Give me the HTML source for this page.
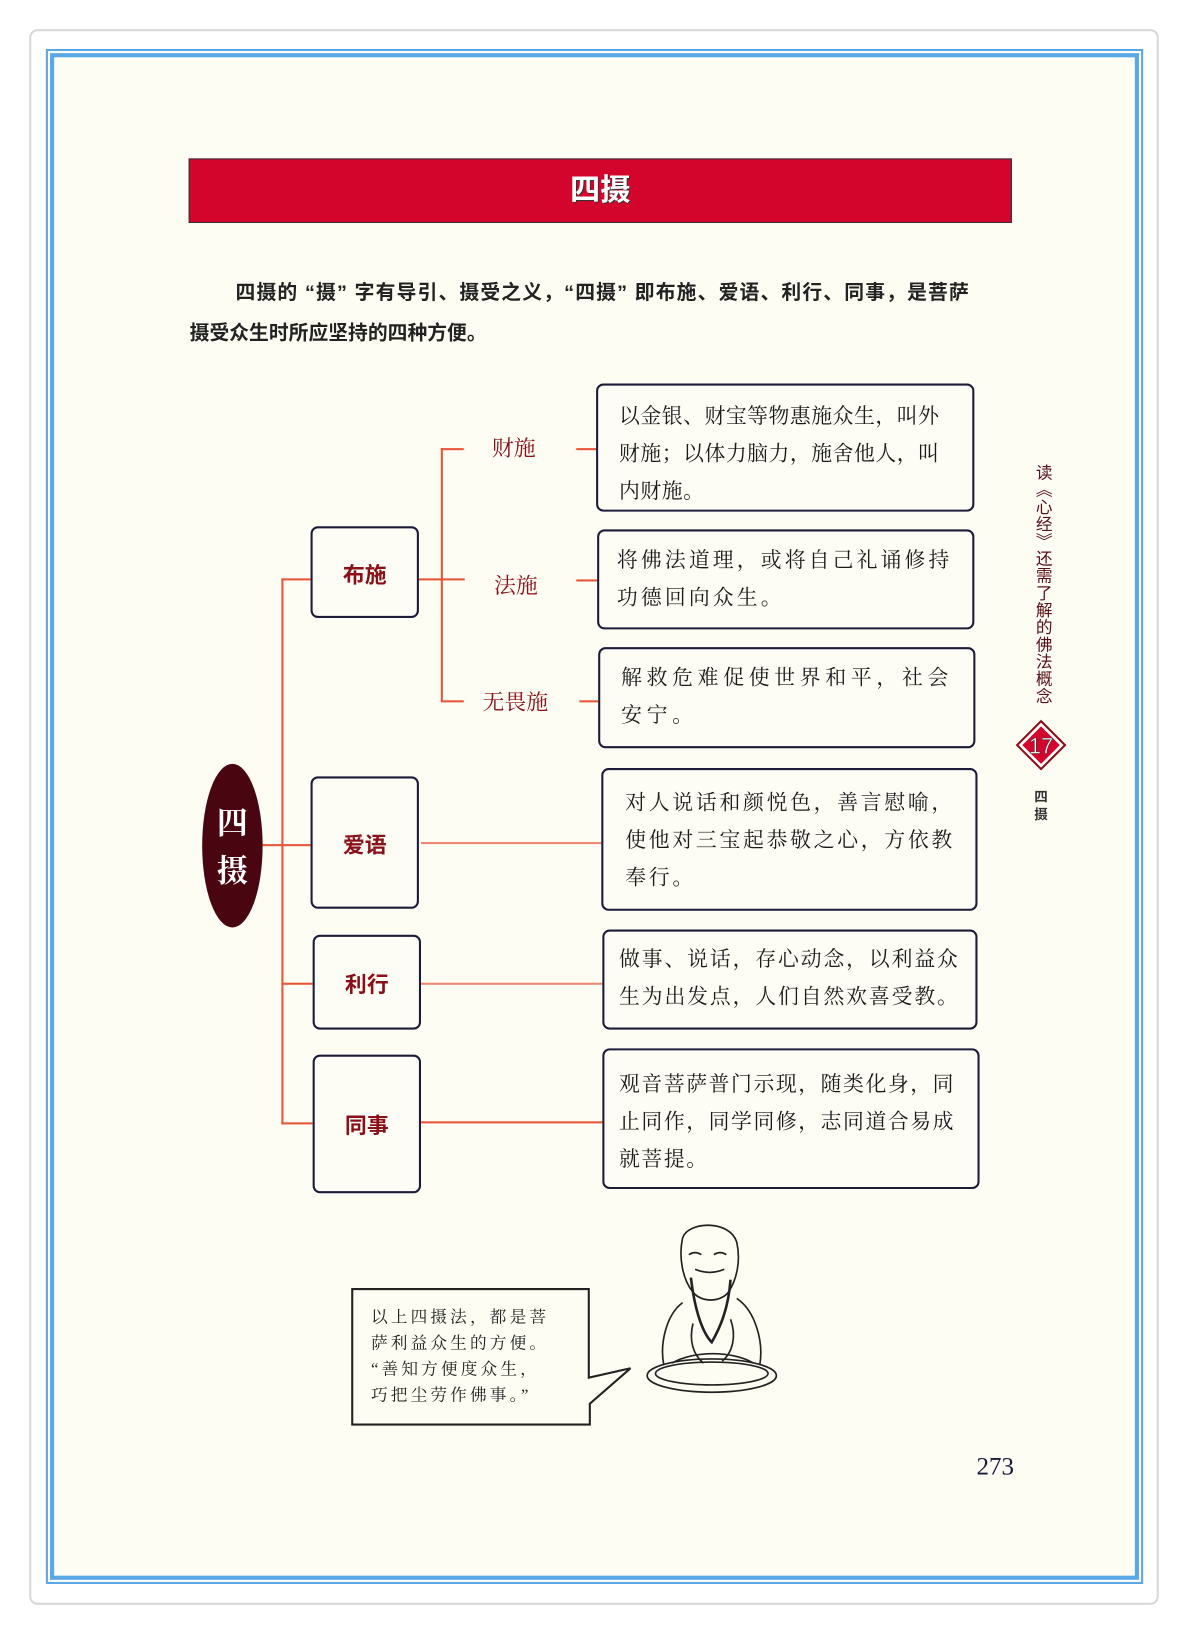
<!DOCTYPE html>
<html><head><meta charset="utf-8"><style>
html,body{margin:0;padding:0;background:#fff;width:1188px;height:1631px;overflow:hidden}
#w{position:absolute;left:0;top:0;width:1140px;height:1565px;transform:scale(1.0421);transform-origin:0 0}
.a{position:absolute}
.sans{font-family:"Liberation Sans","Noto Sans CJK SC",sans-serif}
.serif{font-family:"Liberation Serif","Noto Serif CJK SC",serif}
.box{position:absolute;border:2px solid #1c1c3a;border-radius:7px;box-sizing:border-box;background:#fdfdf5}
.lab{position:absolute;font-family:"Liberation Sans","Noto Sans CJK SC",sans-serif;font-weight:bold;color:#8a0f18;font-size:21px}
.sub{position:absolute;font-family:"Liberation Serif","Noto Serif CJK SC",serif;color:#8a0f18;font-size:21px}
.txt{position:absolute;font-family:"Liberation Serif","Noto Serif CJK SC",serif;color:#1a1a1a;font-size:20px;letter-spacing:1.5px;line-height:36px;white-space:nowrap}
.ln{position:absolute;background:#e8563a}
</style></head><body><div id="w">
<div class="a" style="left:28px;top:28px;width:1084px;height:1512px;border:2px solid #d8d8d8;border-radius:8px;box-sizing:border-box;background:#fff"></div>
<div class="a" style="left:44px;top:47px;width:1053px;height:1473px;border:2px solid #5aa8e6;box-sizing:border-box"></div>
<div class="a" style="left:48px;top:51px;width:1045px;height:1465px;border:4px solid #5aa8e6;box-sizing:border-box;background:#fdfdf3"></div>

<div class="a" style="left:181px;top:152px;width:790px;height:62px;background:#d4052c;border:1.5px solid #333;box-sizing:border-box"></div>
<div class="a sans" style="left:181px;top:152px;width:790px;height:62px;line-height:62px;text-align:center;color:#fff;font-weight:bold;font-size:29px;text-shadow:1px 1px 0 #333">四摄</div>

<div class="a sans" style="left:226px;top:266px;font-size:19px;font-weight:bold;color:#222;white-space:nowrap;letter-spacing:1.1px">四摄的 “摄” 字有导引、摄受之义，“四摄” 即布施、爱语、利行、同事，是菩萨</div>
<div class="a sans" style="left:182px;top:305px;font-size:19px;font-weight:bold;color:#222;white-space:nowrap">摄受众生时所应坚持的四种方便。</div>

<div class="ln" style="left:252px;top:810px;width:46px;height:2px"></div>
<div class="ln" style="left:270px;top:555px;width:2px;height:524px"></div>
<div class="ln" style="left:270px;top:555px;width:28px;height:2px"></div>
<div class="ln" style="left:270px;top:943px;width:30px;height:2px"></div>
<div class="ln" style="left:270px;top:1077px;width:30px;height:2px"></div>
<div class="ln" style="left:402px;top:555px;width:44px;height:2px"></div>
<div class="ln" style="left:423px;top:430px;width:2px;height:243px"></div>
<div class="ln" style="left:423px;top:430px;width:22px;height:2px"></div>
<div class="ln" style="left:423px;top:672px;width:22px;height:2px"></div>
<div class="ln" style="left:553px;top:430px;width:19px;height:2px"></div>
<div class="ln" style="left:553px;top:556px;width:20px;height:2px"></div>
<div class="ln" style="left:556px;top:672px;width:18px;height:2px"></div>
<div class="ln" style="left:404px;top:808px;width:173px;height:2px;opacity:.7"></div>
<div class="ln" style="left:404px;top:943px;width:174px;height:2px;opacity:.7"></div>
<div class="ln" style="left:404px;top:1076px;width:174px;height:2px"></div>

<div class="a" style="left:194px;top:733px;width:58px;height:157px;border-radius:50%;background:#4a0610"></div>
<div class="a serif" style="left:194px;top:768px;width:58px;text-align:center;color:#fff;font-weight:bold;font-size:30px;line-height:46px">四<br>摄</div>

<div class="box" style="left:298px;top:505px;width:104px;height:88px"></div><div class="lab" style="left:298px;top:536px;width:104px;text-align:center">布施</div>
<div class="box" style="left:298px;top:745px;width:104px;height:127px"></div><div class="lab" style="left:298px;top:795px;width:104px;text-align:center">爱语</div>
<div class="box" style="left:300px;top:897px;width:104px;height:91px"></div><div class="lab" style="left:300px;top:929px;width:104px;text-align:center">利行</div>
<div class="box" style="left:300px;top:1012px;width:104px;height:133px"></div><div class="lab" style="left:300px;top:1064px;width:104px;text-align:center">同事</div>

<div class="sub" style="left:472px;top:414px">财施</div>
<div class="sub" style="left:474px;top:546px">法施</div>
<div class="sub" style="left:463px;top:658px">无畏施</div>

<div class="box" style="left:572px;top:368px;width:363px;height:123px"></div>
<div class="txt" style="left:594px;top:382px;letter-spacing:0.5px">以金银、财宝等物惠施众生，叫外<br>财施；以体力脑力，施舍他人，叫<br>内财施。</div>
<div class="box" style="left:573px;top:508px;width:362px;height:96px"></div>
<div class="txt" style="left:592px;top:520px;letter-spacing:3px">将佛法道理，或将自己礼诵修持<br>功德回向众生。</div>
<div class="box" style="left:574px;top:621px;width:362px;height:97px"></div>
<div class="txt" style="left:596px;top:633px;letter-spacing:4.5px">解救危难促使世界和平，社会<br>安宁。</div>
<div class="box" style="left:577px;top:737px;width:361px;height:137px"></div>
<div class="txt" style="left:600px;top:753px;letter-spacing:2.6px">对人说话和颜悦色，善言慰喻，<br>使他对三宝起恭敬之心，方依教<br>奉行。</div>
<div class="box" style="left:578px;top:892px;width:360px;height:96px"></div>
<div class="txt" style="left:594px;top:903px;letter-spacing:1.8px">做事、说话，存心动念，以利益众<br>生为出发点，人们自然欢喜受教。</div>
<div class="box" style="left:578px;top:1006px;width:362px;height:135px"></div>
<div class="txt" style="left:594px;top:1023px;letter-spacing:1.5px">观音菩萨普门示现，随类化身，同<br>止同作，同学同修，志同道合易成<br>就菩提。</div>

<div class="a sans" style="left:987px;top:445px;writing-mode:vertical-rl;font-size:16px;letter-spacing:0.5px;color:#5a1018">读《心经》还需了解的佛法概念</div>
<svg class="a" style="left:974px;top:690px" width="50" height="50"><polygon points="25,2 48,25 25,48 2,25" fill="#fff" stroke="#8a0f18" stroke-width="2"/><polygon points="25,7 43,25 25,43 7,25" fill="#d4052c"/><text x="25" y="33" text-anchor="middle" font-family="Liberation Sans" font-size="21" fill="#fff" stroke="#333" stroke-width=".5">17</text></svg>
<div class="a sans" style="left:990px;top:756px;width:18px;font-size:13px;font-weight:bold;line-height:17px;color:#333;text-align:center">四<br>摄</div>

<svg class="a" style="left:330px;top:1225px" width="290" height="155"><path d="M8,12 L235,12 L235,97 L275,88 L236,122 L236,142 L8,142 Z" fill="#fdfdf3" stroke="#222" stroke-width="2"/></svg>
<div class="a serif" style="left:356px;top:1252px;font-size:16px;line-height:25px;letter-spacing:3px;color:#222;white-space:nowrap">以上四摄法，都是菩<br>萨利益众生的方便。<br>“善知方便度众生，<br>巧把尘劳作佛事。”</div>

<svg class="a" style="left:615px;top:1170px" width="140" height="175" fill="none" stroke="#222" stroke-width="1.6">
<ellipse cx="68" cy="150" rx="62" ry="16"/><ellipse cx="68" cy="148" rx="54" ry="11"/>
<path d="M40,18 C45,2 85,0 92,22 C96,40 92,58 84,70 C76,80 58,80 50,70 C40,58 36,36 40,18Z"/>
<path d="M48,56 C52,90 60,110 68,118 C76,104 84,86 86,58" stroke-width="2.5"/>
<path d="M46,34 q6,-4 12,0 M70,34 q6,-4 12,0 M52,48 q14,6 28,0"/>
<path d="M40,80 C24,92 18,120 22,140 M92,76 C110,88 118,118 114,140 M30,138 C50,126 88,126 108,138"/>
<path d="M50,100 C46,116 50,130 60,138 M86,96 C92,112 88,128 78,136"/>
</svg>

<div class="a serif" style="left:937px;top:1395px;font-size:24px;color:#1a1a3a">273</div>
</div></body></html>
